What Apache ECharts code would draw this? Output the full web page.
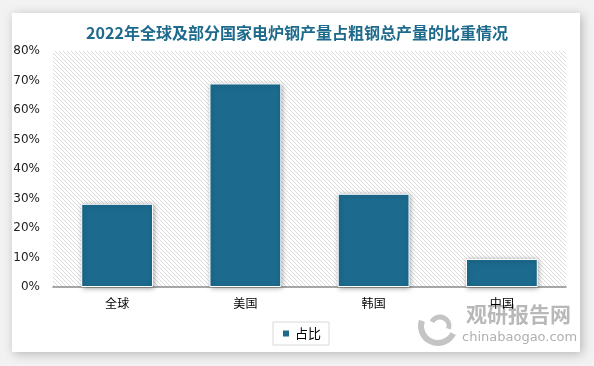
<!DOCTYPE html>
<html><head><meta charset="utf-8">
<script src="https://cdn.jsdelivr.net/npm/echarts@6/dist/echarts.min.js"></script>
<style>html,body{margin:0;padding:0;background:#fff}#c{width:594px;height:366px}</style>
</head><body><div id="c"></div>
<script>
const categories = ['全球', '美国', '韩国', '中国'];
const shareValues = [28.2, 69.0, 31.6, 9.5];
const yTicks = { min: 0, max: 80, interval: 10 };
const seriesName = '占比';
const titleText = '2022年全球及部分国家电炉钢产量占粗钢总产量的比重情况';

const pc = document.createElement('canvas');
pc.width = 4; pc.height = 4;
const g = pc.getContext('2d');
g.fillStyle = '#ffffff'; g.fillRect(0,0,4,4);
g.strokeStyle = '#dcdcdc'; g.lineWidth = 1;
g.beginPath(); g.moveTo(-1,-1); g.lineTo(5,5); g.stroke();
g.beginPath(); g.moveTo(-1,3); g.lineTo(1,5); g.stroke();
g.beginPath(); g.moveTo(3,-1); g.lineTo(5,1); g.stroke();

const chart = echarts.init(document.getElementById('c'), null, {renderer:'canvas'});
chart.setOption({
  backgroundColor: '#f2f2f2',
  animation: false,
  graphic: [
    { type:'rect', z:-10, shape:{x:12,y:13,width:568,height:339}, style:{fill:'#fff', shadowBlur:10, shadowOffsetX:2, shadowOffsetY:2, shadowColor:'rgba(0,0,0,0.25)'} },
    { type:'rect', z:-5, shape:{x:53,y:51,width:513,height:236}, style:{fill:{image:pc, repeat:'repeat'}} },
    { type:'arc', shape:{cx:438, cy:326, r:17, startAngle:Math.PI*0.15, endAngle:Math.PI*1.1}, style:{stroke:'#c4c4c4', lineWidth:6, fill:null} },
    { type:'arc', shape:{cx:440, cy:326, r:9, startAngle:Math.PI*1.15, endAngle:Math.PI*2.1}, style:{stroke:'#c4c4c4', lineWidth:5, fill:null} },
    { type:'text', left:466, top:304, style:{text:'观研报告网', font:'bold 21px "Noto Sans CJK SC"', fill:'#b8b8b8'} },
    { type:'text', left:462, top:331, style:{text:'chinabaogao.com', font:'13px "DejaVu Sans"', fill:'#b0b0b0'} }
  ],
  title: { text: titleText, left:'center', top:20,
    textStyle:{ color:'#1d6a8c', fontSize:16, fontWeight:'bold', fontFamily:'"Noto Sans CJK SC"' } },
  legend: { data:[seriesName], bottom:21, left:273, itemWidth:8, itemHeight:8, icon:'rect',
    borderColor:'#d9d9d9', borderWidth:1, padding:[5,8,5,8], itemGap:6,
    textStyle:{ fontSize:13, color:'#000', fontFamily:'"Noto Sans CJK SC"' } },
  grid: { left:53, right:28, top:51, bottom:79 },
  xAxis: { type:'category', data:categories,
    axisLine:{ lineStyle:{ color:'#8c8c8c', width:1.5 } }, axisTick:{ show:false },
    axisLabel:{ color:'#000', fontSize:12, margin:10, fontFamily:'"Noto Sans CJK SC"' } },
  yAxis: { type:'value', min:yTicks.min, max:yTicks.max, interval:yTicks.interval,
    axisLabel:{ formatter:'{value}%', color:'#222', fontSize:12, margin:13, fontFamily:'"DejaVu Sans"' },
    splitLine:{ show:false }, axisLine:{ show:false }, axisTick:{ show:false } },
  series: [{ name:seriesName, type:'bar', data:shareValues, barWidth:'56%',
    itemStyle:{ color:'#1c6b8f', borderColor:'#fff', borderWidth:1,
      shadowBlur:5, shadowColor:'rgba(0,0,0,0.35)', shadowOffsetX:1, shadowOffsetY:1 } }]
});
</script></body></html>
